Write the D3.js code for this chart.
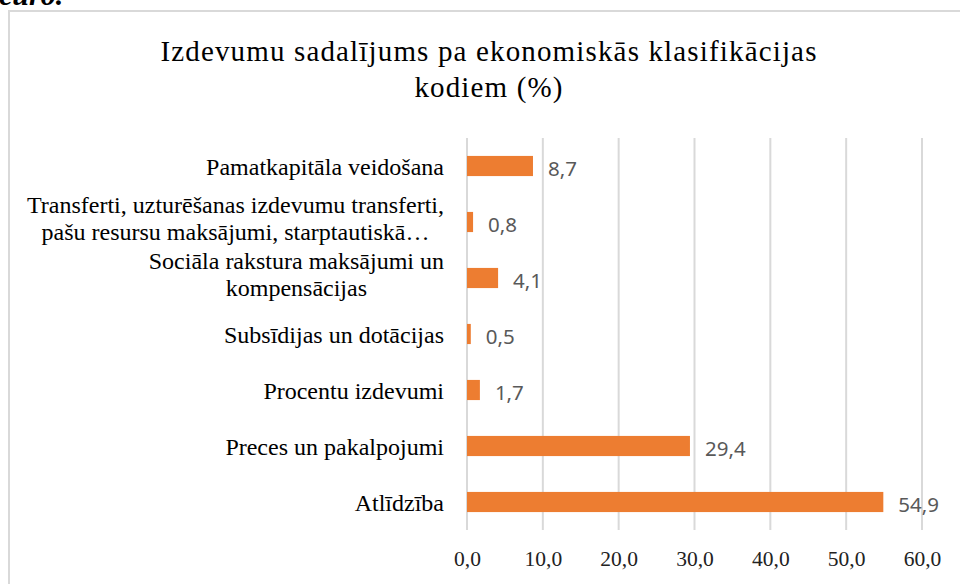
<!DOCTYPE html>
<html>
<head>
<meta charset="utf-8">
<script src="https://cdn.jsdelivr.net/npm/d3@7"></script>
<style>
  html, body { margin: 0; padding: 0; background: #fff; }
  svg { display: block; }
</style>
</head>
<body>
<svg id="chart" width="960" height="584"></svg>
<script>
const categories = [
  ["Pamatkapitāla veidošana"],
  ["Transferti, uzturēšanas izdevumu transferti,", "pašu resursu maksājumi, starptautiskā…"],
  ["Sociāla rakstura maksājumi un", "kompensācijas"],
  ["Subsīdijas un dotācijas"],
  ["Procentu izdevumi"],
  ["Preces un pakalpojumi"],
  ["Atlīdzība"]
];
const values = [8.7, 0.8, 4.1, 0.5, 1.7, 29.4, 54.9];
const ticks = [0, 10, 20, 30, 40, 50, 60];
const titleLines = ["Izdevumu sadalījums pa ekonomiskās klasifikācijas", "kodiem (%)"];
const headerText = "euro.";

const svg = d3.select("#chart");
const fmt = v => d3.format(".1f")(v).replace(".", ",");

// page header fragment (cut off at top)
svg.append("text")
  .attr("x", -1).attr("y", 5)
  .attr("font-family", "Liberation Serif, serif")
  .attr("font-size", 30).attr("font-weight", "bold").attr("font-style", "italic")
  .attr("fill", "#000")
  .text(headerText);

// chart frame
svg.append("rect")
  .attr("x", 9).attr("y", 11).attr("width", 1000).attr("height", 620)
  .attr("fill", "#fff").attr("stroke", "#d9d9d9").attr("stroke-width", 2);

// title
svg.append("g").selectAll("text").data(titleLines).join("text")
  .attr("x", 489).attr("y", (d, i) => 61 + i * 36)
  .attr("text-anchor", "middle")
  .attr("font-family", "Liberation Serif, serif")
  .attr("font-size", 29).attr("letter-spacing", 1.15).attr("fill", "#000")
  .text(d => d);

const x = d3.scaleLinear().domain([0, 60]).range([467, 922]);
const y = d3.scaleBand().domain(d3.range(categories.length)).range([138, 530]).paddingInner(0.64).paddingOuter(0.32);

// gridlines
svg.append("g").selectAll("line").data(ticks).join("line")
  .attr("x1", d => x(d)).attr("x2", d => x(d))
  .attr("y1", 138).attr("y2", 530)
  .attr("stroke", "#d9d9d9").attr("stroke-width", 2);

// x axis tick labels
const xAxis = d3.axisBottom(x).tickValues(ticks).tickFormat(fmt).tickSize(0).tickPadding(0);
const gx = svg.append("g").attr("transform", "translate(0,566)").call(xAxis);
gx.select(".domain").remove();
gx.selectAll("text")
  .attr("dy", 0)
  .attr("font-family", "Liberation Serif, serif")
  .attr("font-size", 21.5).attr("fill", "#222");

// bars
svg.append("g").selectAll("rect").data(values).join("rect")
  .attr("x", x(0))
  .attr("y", (d, i) => y(i))
  .attr("width", d => x(d) - x(0))
  .attr("height", y.bandwidth())
  .attr("fill", "#ed7d31");

// value labels
svg.append("g").selectAll("text").data(values).join("text")
  .attr("x", d => x(d) + 15)
  .attr("y", (d, i) => y(i) + y.bandwidth() / 2 + 10)
  .attr("font-family", "Noto Sans, sans-serif")
  .attr("font-size", 20.5).attr("fill", "#595959")
  .text(d => fmt(d));

// category labels
const labelRight = 444;
const lg = svg.append("g");
categories.forEach((lines, i) => {
  const cy = y(i) + y.bandwidth() / 2;
  const n = lines.length;
  const grp = lg.append("g");
  const texts = grp.selectAll("text").data(lines).join("text")
    .attr("font-family", "Liberation Serif, serif")
    .attr("font-size", 24).attr("fill", "#000")
    .attr("y", (d, j) => cy + 9 + (j - (n - 1) / 2) * 27 - (n - 1) * 4.5)
    .text(d => d);
  const widths = texts.nodes().map(n => n.getComputedTextLength());
  const maxW = d3.max(widths);
  texts.attr("text-anchor", "middle")
    .attr("x", (d, j) => Math.min(labelRight - maxW / 2, labelRight - widths[j] / 2));
});
</script>
</body>
</html>
